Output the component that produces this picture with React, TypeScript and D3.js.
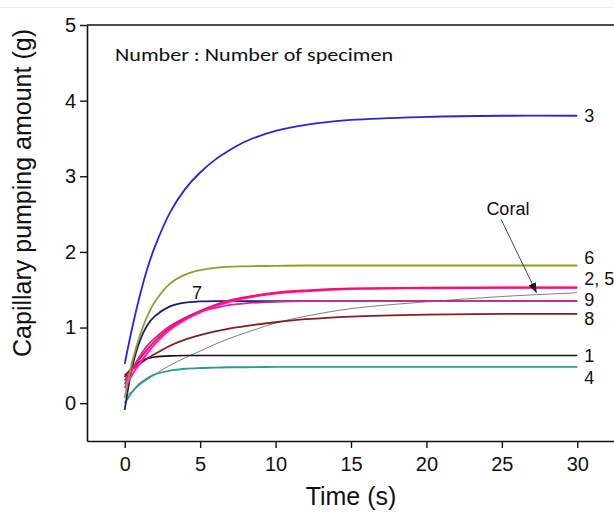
import React, { useEffect, useRef } from 'react'
import * as d3 from 'd3'

// sample times (s)
const times = [0, 0.5, 1, 1.5, 2, 3, 4, 5, 6, 7, 8, 10, 12, 15, 20, 25, 30]

// capillary pumping amount (g) per specimen
const spec1 = [0.35, 0.47, 0.55, 0.59, 0.61, 0.625, 0.63, 0.63, 0.63, 0.63, 0.63, 0.63, 0.63, 0.63, 0.63, 0.63, 0.63]
const spec2 = [0.30, 0.45, 0.59, 0.71, 0.82, 1.00, 1.12, 1.22, 1.30, 1.36, 1.40, 1.46, 1.49, 1.515, 1.525, 1.53, 1.53]
const spec3 = [0.52, 1.00, 1.42, 1.78, 2.07, 2.52, 2.83, 3.05, 3.22, 3.35, 3.46, 3.60, 3.68, 3.745, 3.785, 3.80, 3.80]
const spec4 = [0.0, 0.15, 0.26, 0.33, 0.38, 0.43, 0.455, 0.465, 0.47, 0.475, 0.475, 0.48, 0.48, 0.48, 0.48, 0.48, 0.48]
const spec5 = [0.20, 0.38, 0.53, 0.66, 0.78, 0.97, 1.10, 1.20, 1.28, 1.34, 1.39, 1.45, 1.48, 1.51, 1.52, 1.525, 1.525]
const spec6 = [0.07, 0.55, 0.89, 1.15, 1.34, 1.58, 1.70, 1.76, 1.79, 1.805, 1.81, 1.815, 1.82, 1.82, 1.82, 1.82, 1.82]
const spec7 = [-0.09, 0.48, 0.82, 1.03, 1.15, 1.28, 1.33, 1.345, 1.35, 1.35, 1.35, 1.35, 1.35, 1.35, 1.35, 1.35, 1.35]
const spec8 = [0.37, 0.45, 0.52, 0.59, 0.65, 0.76, 0.84, 0.90, 0.95, 0.99, 1.02, 1.07, 1.11, 1.145, 1.17, 1.18, 1.18]
const spec9 = [0.25, 0.45, 0.62, 0.76, 0.86, 1.02, 1.13, 1.21, 1.26, 1.30, 1.32, 1.34, 1.35, 1.35, 1.35, 1.35, 1.35]
const coral = [0.08, 0.16, 0.24, 0.31, 0.38, 0.50, 0.60, 0.69, 0.78, 0.86, 0.93, 1.06, 1.15, 1.25, 1.34, 1.41, 1.46]

const xTicks = [0, 5, 10, 15, 20, 25, 30]
const yTicks = [0, 1, 2, 3, 4, 5]

// drawing order: later ones sit on top
const series = [
  { name: 'coral', values: coral, color: '#7f7f7f', width: 1 },
  { name: '4', values: spec4, color: '#2b9a98', width: 1.8 },
  { name: '1', values: spec1, color: '#111111', width: 1.6 },
  { name: '8', values: spec8, color: '#8a1c1c', width: 1.8 },
  { name: '7', values: spec7, color: '#1c1c80', width: 1.8 },
  { name: '9', values: spec9, color: '#d42a8c', width: 1.8 },
  { name: '5', values: spec5, color: '#ff10ee', width: 2 },
  { name: '2', values: spec2, color: '#ff1050', width: 2 },
  { name: '6', values: spec6, color: '#999926', width: 1.8 },
  { name: '3', values: spec3, color: '#2525e8', width: 1.8 },
]

// end labels: text and value where they sit on the y axis
const endLabels = [
  { text: '3', v: 3.80 },
  { text: '6', v: 1.92 },
  { text: '2, 5', v: 1.65 },
  { text: '9', v: 1.37 },
  { text: '8', v: 1.12 },
  { text: '1', v: 0.63 },
  { text: '4', v: 0.34 },
]

const W = 614
const H = 512

export default function App() {
  const ref = useRef<SVGSVGElement>(null)

  useEffect(() => {
    const svg = d3.select(ref.current)
    svg.selectAll('*').remove()

    const x = d3.scaleLinear().domain([-2.5, 32.5]).range([87, 615])
    const y = d3.scaleLinear().domain([-0.5, 5]).range([441, 25])
    const font = 'Liberation Sans, Arial, sans-serif'

    // faint page rule at the very top
    svg.append('line')
      .attr('x1', 0).attr('x2', W)
      .attr('y1', 7.5).attr('y2', 7.5)
      .attr('stroke', '#ececec')

    const line = d3.line<number>()
      .x((d, i) => x(times[i]))
      .y(d => y(d))
      .curve(d3.curveCatmullRom.alpha(0.5))

    series.forEach(s => {
      svg.append('path')
        .attr('d', line(s.values))
        .attr('fill', 'none')
        .attr('stroke', s.color)
        .attr('stroke-width', s.width)
    })

    // axes
    const xAxis = svg.append('g')
      .attr('transform', `translate(0, ${y(-0.5)})`)
      .call(d3.axisBottom(x).tickValues(xTicks).tickSize(7).tickSizeOuter(0))
    const yAxis = svg.append('g')
      .attr('transform', `translate(${x(-2.5)}, 0)`)
      .call(d3.axisLeft(y).tickValues(yTicks).tickFormat(d3.format('d')).tickSize(7).tickSizeOuter(0))

    ;[xAxis, yAxis].forEach(a => {
      a.select('.domain').attr('stroke', '#111').attr('stroke-width', 1.6)
      a.selectAll('.tick line').attr('stroke', '#111').attr('stroke-width', 1.4)
      a.selectAll('.tick text')
        .attr('fill', '#111')
        .style('font-family', font)
        .style('font-size', '20px')
    })
    xAxis.selectAll('.tick text').attr('dy', '1.0em')
    yAxis.selectAll('.tick text').attr('x', -11)

    // top frame line
    svg.append('line')
      .attr('x1', x(-2.5)).attr('x2', W)
      .attr('y1', y(5)).attr('y2', y(5))
      .attr('stroke', '#111')
      .attr('stroke-width', 1.6)

    // axis titles
    svg.append('text')
      .attr('x', 351)
      .attr('y', 505)
      .attr('text-anchor', 'middle')
      .style('font-family', font)
      .style('font-size', '25px')
      .attr('fill', '#111')
      .text('Time (s)')

    svg.append('text')
      .attr('transform', 'rotate(-90)')
      .attr('x', -193)
      .attr('y', 31)
      .attr('text-anchor', 'middle')
      .style('font-family', font)
      .style('font-size', '25px')
      .attr('fill', '#111')
      .text('Capillary pumping amount (g)')

    // note
    svg.append('text')
      .attr('x', 115)
      .attr('y', 61)
      .style('font-family', 'Carlito, Lato, sans-serif')
      .style('font-size', '18px')
      .attr('fill', '#111')
      .attr('textLength', 278)
      .attr('lengthAdjust', 'spacingAndGlyphs')
      .text('Number : Number of specimen')

    // right-hand specimen labels
    endLabels.forEach(l => {
      svg.append('text')
        .attr('x', x(30) + 7)
        .attr('y', y(l.v))
        .attr('dy', '0.35em')
        .style('font-family', font)
        .style('font-size', '18px')
        .attr('fill', '#111')
        .text(l.text)
    })

    svg.append('text')
      .attr('x', x(4.8))
      .attr('y', y(1.46))
      .attr('dy', '0.35em')
      .attr('text-anchor', 'middle')
      .style('font-family', font)
      .style('font-size', '18px')
      .attr('fill', '#111')
      .text('7')

    // coral callout
    svg.append('text')
      .attr('x', x(25.4))
      .attr('y', y(2.57))
      .attr('dy', '0.35em')
      .attr('text-anchor', 'middle')
      .style('font-family', font)
      .style('font-size', '18px')
      .attr('fill', '#111')
      .text('Coral')

    const defs = svg.append('defs')
    defs.append('marker')
      .attr('id', 'arrow')
      .attr('viewBox', '0 0 10 10')
      .attr('refX', 10).attr('refY', 5)
      .attr('markerWidth', 10).attr('markerHeight', 10)
      .attr('markerUnits', 'userSpaceOnUse')
      .attr('orient', 'auto')
      .append('path')
      .attr('d', 'M0,1 L10,5 L0,9 Z')
      .attr('fill', '#111')

    svg.append('line')
      .attr('x1', x(24.95)).attr('y1', y(2.43))
      .attr('x2', x(27.3)).attr('y2', y(1.46))
      .attr('stroke', '#333')
      .attr('stroke-width', 0.9)
      .attr('marker-end', 'url(#arrow)')
  }, [])

  return (
    <svg
      ref={ref}
      width={W}
      height={H}
      style={{ position: 'absolute', left: 0, top: 0, background: '#fff' }}
    />
  )
}
